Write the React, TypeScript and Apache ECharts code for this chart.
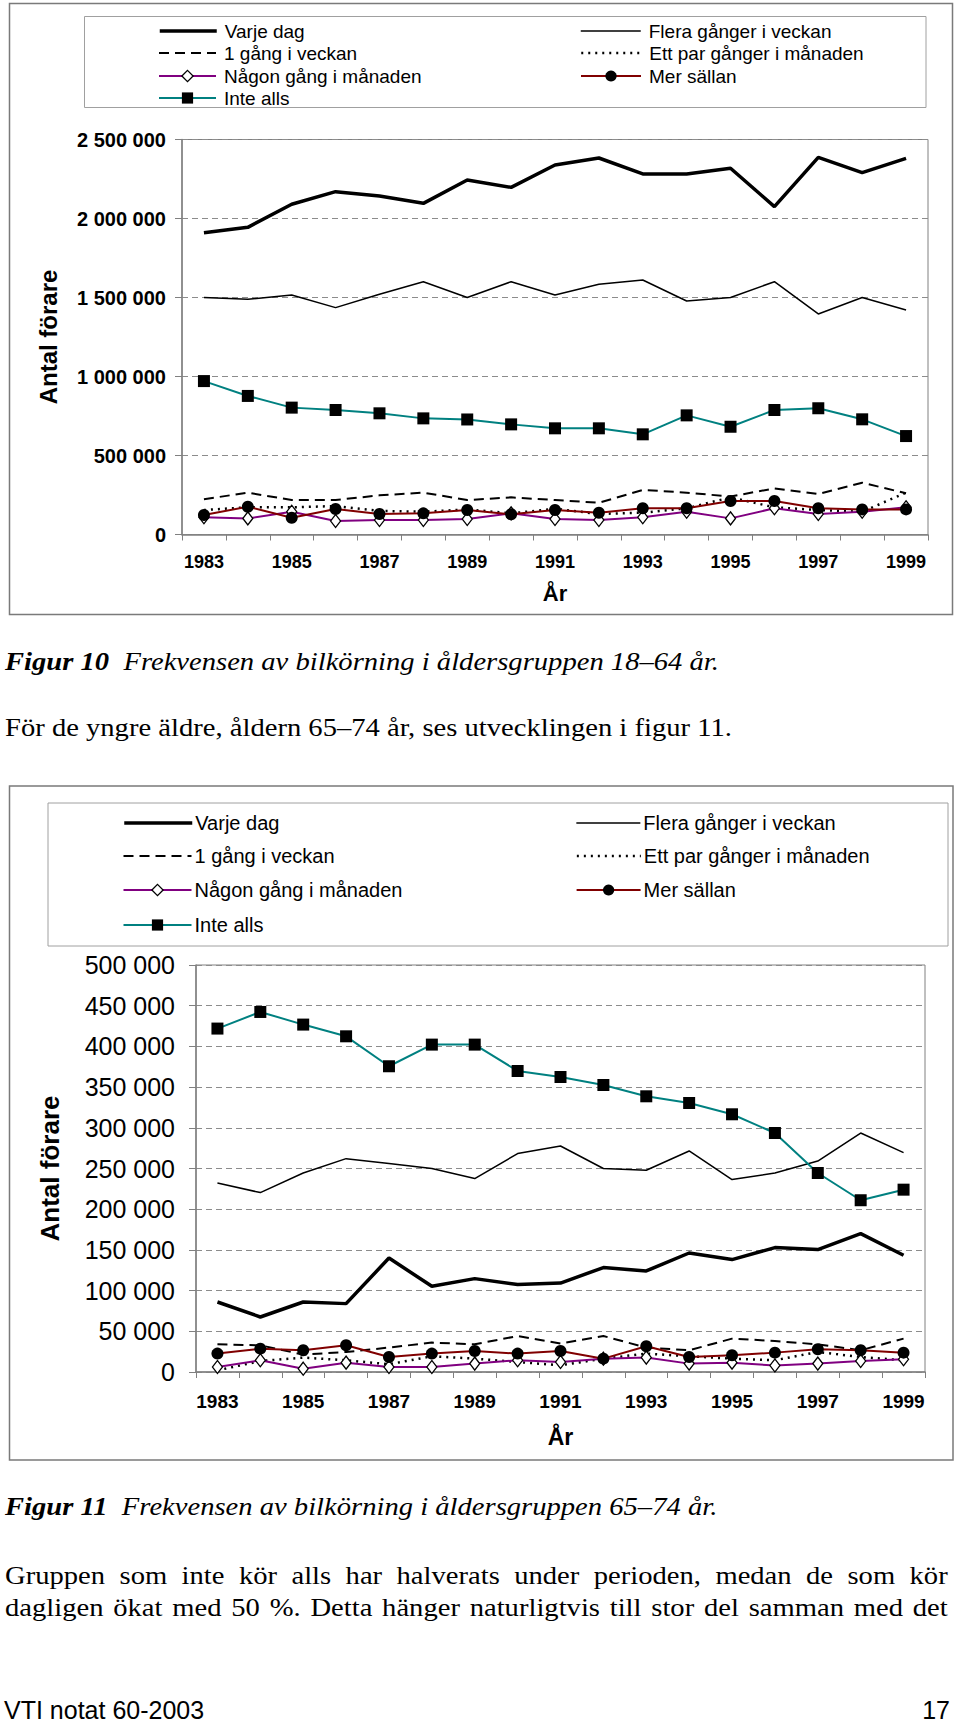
import React, { useEffect, useRef } from "react";
import * as echarts from "echarts";

const years = ["1983","1984","1985","1986","1987","1988","1989","1990","1991","1992","1993","1994","1995","1996","1997","1998","1999"];
const names = ["Varje dag","Flera gånger i veckan","1 gång i veckan","Ett par gånger i månaden","Någon gång i månaden","Mer sällan","Inte alls"];

// Figur 10: 18–64 år
const f10Varje = [1910000,1944000,2090000,2170000,2142000,2096000,2244000,2197000,2339000,2383000,2282000,2282000,2318000,2075000,2387000,2290000,2380000];
const f10Flera = [1500000,1489000,1516000,1436000,1520000,1600000,1500000,1600000,1516000,1584000,1611000,1478000,1500000,1600000,1396000,1500000,1421000];
const f10EnGang = [223000,265000,218000,218000,248000,265000,218000,235000,218000,201000,282000,265000,240000,292000,256000,328000,261000];
const f10Par = [155000,172000,172000,180000,149000,144000,159000,134000,163000,130000,138000,166000,235000,172000,155000,144000,265000];
const f10Nagon = [109000,102000,144000,85000,92000,92000,98000,134000,98000,92000,109000,144000,102000,166000,130000,144000,172000];
const f10Mer = [123000,176000,106000,161000,130000,134000,155000,128000,155000,138000,166000,166000,212000,212000,166000,159000,159000];
const f10Inte = [971000,877000,803000,788000,767000,735000,728000,697000,672000,672000,634000,754000,682000,788000,799000,729000,623000];

// Figur 11: 65–74 år
const f11Varje = [86000,67600,86000,84000,140000,105300,114700,107400,109300,128300,124100,146200,138100,152800,150400,170000,143400];
const f11Flera = [232200,220400,244500,262100,256000,249900,237600,268300,277600,250000,247800,271500,236400,244500,259200,293600,269500];
const f11EnGang = [34000,32800,21400,24600,30000,36100,34000,44200,35000,44200,30000,26700,41000,38100,34000,26700,41000];
const f11Par = [2000,13500,17700,14400,9500,19300,16400,12300,8200,16400,22600,19300,16400,14400,24600,18400,14400];
const f11Nagon = [6100,14400,4100,11500,6100,6100,10300,14400,12300,16400,17700,10300,11500,7900,10300,13500,15600];
const f11Mer = [22600,28700,26700,32800,18400,22600,25800,22600,25800,16400,31600,18400,20500,23800,27900,26700,23800];
const f11Inte = [421900,442300,426800,412400,375600,402200,402200,369800,362400,352600,338700,330500,316600,293600,244500,211000,224000];

const fmt = (v: number) => String(v).replace(/\B(?=(\d{3})+(?!\d))/g, " ");

const SANS = "Arial, 'Liberation Sans', Helvetica, sans-serif";
const SERIF = "'Liberation Serif', 'Times New Roman', serif";

const lineStyles: any[] = [
  { color: "#000", width: 3.5, type: "solid" },
  { color: "#000", width: 1.5, type: "solid" },
  { color: "#000", width: 2, type: [10, 6] },
  { color: "#000", width: 2.5, type: [2, 5] },
  { color: "#800080", width: 2, type: "solid" },
  { color: "#800000", width: 2, type: "solid" },
  { color: "#008080", width: 2, type: "solid" },
];
const symbolStyles: any[] = [
  { symbol: "none", itemStyle: { color: "#000" } },
  { symbol: "none", itemStyle: { color: "#000" } },
  { symbol: "none", itemStyle: { color: "#000" } },
  { symbol: "none", itemStyle: { color: "#000" } },
  { symbol: "diamond", symbolSize: [10, 13], itemStyle: { color: "#fff", borderColor: "#000", borderWidth: 1.3 } },
  { symbol: "circle", symbolSize: 12, itemStyle: { color: "#000" } },
  { symbol: "rect", symbolSize: 12, itemStyle: { color: "#000" } },
];

function makeSeries(idx: number, data: number[][]) {
  return names.map((n, i) => ({
    type: "line",
    name: n,
    xAxisIndex: idx,
    yAxisIndex: idx,
    data: data[i],
    showSymbol: symbolStyles[i].symbol !== "none",
    z: 2 + i,
    lineStyle: lineStyles[i],
    ...symbolStyles[i],
  }));
}

function legends(x1: number, x2: number, rows: number[], w1: number, w2: number, fs: number, textPad: number) {
  const pos: [number, number, number, number][] = [
    [0, x1, rows[0], w1], [1, x2, rows[0], w2],
    [2, x1, rows[1], w1], [3, x2, rows[1], w2],
    [4, x1, rows[2], w1], [5, x2, rows[2], w2],
    [6, x1, rows[3], w1],
  ];
  return pos.map(([i, x, y, w]) => {
    const noSym = symbolStyles[i].symbol === "none";
    return {
      data: [names[i]],
      left: x,
      top: y - 11,
      padding: 0,
      itemWidth: w,
      itemHeight: 14,
      selectedMode: false,
      lineStyle: { ...lineStyles[i] },
      itemStyle: noSym ? { opacity: 0 } : { ...symbolStyles[i].itemStyle },
      textStyle: { fontFamily: SANS, fontSize: fs, color: "#000", lineHeight: 22, padding: [0, 0, 0, textPad] },
    };
  });
}

function axes(idx: number, max: number, interval: number, yFs: number, yBold: boolean, xFs: number, xNameFs: number, yNameFs: number, yMargin: number, xMargin: number, xNameGap: number, yNameGap: number) {
  const x = {
    type: "category",
    gridIndex: idx,
    data: years,
    boundaryGap: true,
    name: "År",
    nameLocation: "middle",
    nameGap: xNameGap,
    nameTextStyle: { fontFamily: SANS, fontSize: xNameFs, fontWeight: "bold", color: "#000" },
    axisLine: { lineStyle: { color: "#808080", width: 1.5 } },
    axisTick: { show: true, interval: 0, length: 6, lineStyle: { color: "#808080" } },
    axisLabel: { interval: 1, margin: xMargin, fontFamily: SANS, fontSize: xFs, fontWeight: "bold", color: "#000" },
    splitLine: { show: false },
  };
  const y = {
    type: "value",
    gridIndex: idx,
    min: 0,
    max,
    interval,
    name: "Antal förare",
    nameLocation: "middle",
    nameGap: yNameGap,
    nameTextStyle: { fontFamily: SANS, fontSize: yNameFs, fontWeight: "bold", color: "#000" },
    axisLine: { show: true, lineStyle: { color: "#808080", width: 1.5 } },
    axisTick: { show: true, length: 7, lineStyle: { color: "#808080" } },
    axisLabel: { formatter: fmt, margin: yMargin, fontFamily: SANS, fontSize: yFs, fontWeight: yBold ? "bold" : "normal", color: "#000" },
    splitLine: { show: true, lineStyle: { color: "#8c8c8c", type: [6, 4], width: 1 } },
  };
  return { x, y };
}

export default function App() {
  const ref = useRef<HTMLDivElement>(null);
  useEffect(() => {
    if (!ref.current) return;
    const chart = echarts.init(ref.current, undefined, { renderer: "svg" });
    const a1 = axes(0, 2500000, 500000, 20, true, 18, 22, 24, 16, 18, 48, 122);
    const a2 = axes(1, 500000, 50000, 25, false, 19, 23, 26, 21, 20, 53, 133);
    const option: any = {
      animation: false,
      backgroundColor: "#fff",
      grid: [
        { left: 182, top: 139.5, width: 746, height: 395, show: true, borderColor: "#808080", borderWidth: 1, backgroundColor: "#fff", containLabel: false },
        { left: 196, top: 965, width: 729, height: 407, show: true, borderColor: "#808080", borderWidth: 1, backgroundColor: "#fff", containLabel: false },
      ],
      xAxis: [a1.x, a2.x],
      yAxis: [a1.y, a2.y],
      legend: [
        ...legends(158, 580, [31, 53, 76, 98], 57, 60, 19, 3),
        ...legends(122.5, 575.6, [823, 856, 890, 925], 68, 64, 20, -2),
      ],
      graphic: [
        { type: "rect", z: -1, shape: { x: 9.5, y: 3.5, width: 943, height: 611 }, style: { fill: "none", stroke: "#7a7a7a", lineWidth: 1.5 } },
        { type: "rect", z: -1, shape: { x: 84.5, y: 16.5, width: 841.5, height: 91 }, style: { fill: "none", stroke: "#a0a0a0", lineWidth: 1 } },
        { type: "rect", z: -1, shape: { x: 9.5, y: 786, width: 943.5, height: 674 }, style: { fill: "none", stroke: "#7a7a7a", lineWidth: 1.5 } },
        { type: "rect", z: -1, shape: { x: 48, y: 803, width: 900, height: 143 }, style: { fill: "none", stroke: "#a0a0a0", lineWidth: 1 } },
      ],
      series: [
        ...makeSeries(0, [f10Varje, f10Flera, f10EnGang, f10Par, f10Nagon, f10Mer, f10Inte]),
        ...makeSeries(1, [f11Varje, f11Flera, f11EnGang, f11Par, f11Nagon, f11Mer, f11Inte]),
      ],
    };
    chart.setOption(option);
    return () => chart.dispose();
  }, []);

  const serif: React.CSSProperties = {
    position: "absolute", left: 5, fontFamily: SERIF, fontSize: 26, lineHeight: "30px", color: "#000",
    whiteSpace: "nowrap", transform: "scaleX(1.1)", transformOrigin: "0 0",
  };
  const just: React.CSSProperties = { ...serif, width: 857, textAlign: "justify", textAlignLast: "justify", whiteSpace: "normal" };
  const foot: React.CSSProperties = { position: "absolute", top: 1697, fontFamily: SANS, fontSize: 25, lineHeight: "26px", color: "#000", whiteSpace: "nowrap" };
  return (
    <div style={{ position: "absolute", left: 0, top: 0, width: 960, height: 1726, background: "#fff" }}>
      <div ref={ref} style={{ position: "absolute", left: 0, top: 0, width: 960, height: 1726 }} />
      <div style={{ ...serif, top: 647, fontStyle: "italic" }}>
        <b>Figur 10</b>&nbsp; Frekvensen av bilkörning i åldersgruppen 18–64 år.
      </div>
      <div style={{ ...serif, top: 713 }}>För de yngre äldre, åldern 65–74 år, ses utvecklingen i figur 11.</div>
      <div style={{ ...serif, top: 1492, fontStyle: "italic" }}>
        <b>Figur 11</b>&nbsp; Frekvensen av bilkörning i åldersgruppen 65–74 år.
      </div>
      <div style={{ ...just, top: 1560.5 }}>
        Gruppen som inte kör alls har halverats under perioden, medan de som kör
      </div>
      <div style={{ ...just, top: 1593 }}>
        dagligen ökat med 50 %. Detta hänger naturligtvis till stor del samman med det
      </div>
      <div style={{ ...foot, left: 4 }}>VTI notat 60-2003</div>
      <div style={{ ...foot, right: 10 }}>17</div>
    </div>
  );
}
